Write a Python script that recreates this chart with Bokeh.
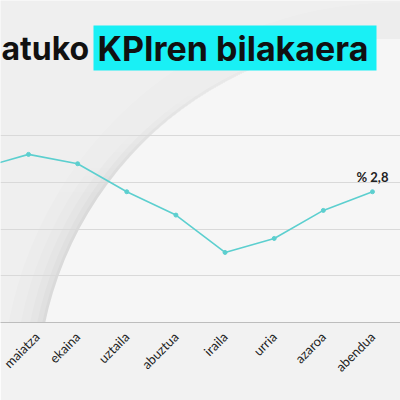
import math
from bokeh.plotting import figure
from bokeh.models import FixedTicker, Range1d
from bokeh.core.properties import value
from bokeh.embed import file_html
from bokeh.resources import INLINE

# ---- data ----
months = ["apirila", "maiatza", "ekaina", "uztaila", "abuztua",
          "iraila", "urria", "azaroa", "abendua"]
cpi = [3.3, 3.6, 3.4, 2.8, 2.3, 1.5, 1.8, 2.4, 2.8]
grid_values = [0, 1, 2, 3, 4]
last_label = "% 2,8"
title_left = "atuko"
title_right = "KPIren bilakaera"

# ---- layout ----
W = H = 400
AXIS_Y = 322
BOTTOM = H - AXIS_Y
STEP_X = 49.14          # px per month
PX_UNIT = 46.7          # px per CPI point
X0 = 1 - 28 / STEP_X


def dx(px):
    return X0 + px / STEP_X


def dy(py):
    return (AXIS_Y - py) / PX_UNIT


p = figure(width=W, height=H, output_backend="svg", toolbar_location=None,
           x_range=Range1d(X0, X0 + W / STEP_X),
           y_range=Range1d(0, AXIS_Y / PX_UNIT),
           y_axis_location=None,
           min_border_left=0, min_border_right=0, min_border_top=0,
           min_border_bottom=BOTTOM,
           background_fill_color="#efefef", border_fill_color="#f2f2f2",
           outline_line_color=None)

# background swoosh (decoration)
cx, cy = dx(395), dy(396)
D = 716
for k, a in [(36, 0.01), (24, 0.012), (15, 0.015), (8, 0.02), (3, 0.025)]:
    r = p.ellipse(x=[cx], y=[cy], width=[D + 2 * k], height=[D + 2 * k],
                  width_units="screen", height_units="screen",
                  fill_color="black", fill_alpha=a, line_color=None)
    r.level = "underlay"
r = p.ellipse(x=[cx], y=[cy], width=[D], height=[D],
              width_units="screen", height_units="screen",
              fill_color="#f6f6f6", line_color=None)
r.level = "underlay"

# whitening toward the top (decoration)
bands = list(range(8, 200, 8))
r = p.quad(left=[dx(0)] * len(bands), right=[dx(W)] * len(bands),
           top=[dy(0)] * len(bands), bottom=[dy(b) for b in bands],
           fill_color="white", fill_alpha=0.05, line_color=None)
r.level = "underlay"

p.xgrid.visible = False
p.ygrid.ticker = FixedTicker(ticks=grid_values)
p.ygrid.grid_line_color = "#d9d9d9"
p.ygrid.grid_line_width = 1

idx = list(range(len(months)))
ax = p.xaxis[0]
ax.ticker = FixedTicker(ticks=idx)
ax.major_label_overrides = {i: m for i, m in enumerate(months)}
ax.major_label_orientation = math.pi / 4
ax.major_tick_line_color = None
ax.minor_tick_line_color = None
ax.axis_line_color = "#bdbdbd"
ax.major_label_text_font = "Lato"
ax.major_label_text_font_size = "13px"
ax.major_label_text_color = "#222222"
ax.major_label_standoff = 6

line_color = "#5ccfcf"
p.line(idx, cpi, line_color=line_color, line_width=1.6)
p.scatter(idx, cpi, size=4, color=line_color)

p.text(x=[idx[-1]], y=[cpi[-1]], text=[last_label], y_offset=-7,
       text_align="center", text_baseline="bottom",
       text_font=value("Lato"), text_font_style="bold",
       text_font_size="13px", text_color="#222222")

# title
p.quad(left=[dx(93)], right=[dx(376)], top=[dy(25)], bottom=[dy(70)],
       fill_color="#19f0f5", line_color=None)
p.text(x=[dx(1)], y=[dy(48)], text=[title_left], text_align="left",
       text_baseline="alphabetic", text_font=value("Inter"),
       text_font_style="bold", text_font_size="32px", text_color="#111111")
p.text(x=[dx(97)], y=[dy(48)], text=[title_right], text_align="left",
       text_baseline="alphabetic", text_font=value("Inter"),
       text_font_style="bold", text_font_size="34px", text_color="#111111")

open("out.html", "w").write(file_html(p, INLINE))
